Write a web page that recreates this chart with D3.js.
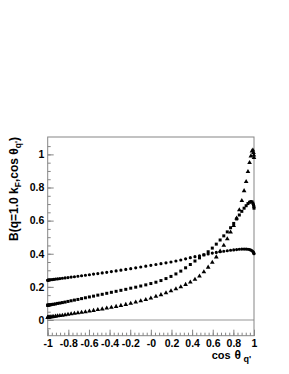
<!DOCTYPE html>
<html>
<head>
<meta charset="utf-8">
<script src="https://cdn.jsdelivr.net/npm/d3@7"></script>
<style>
  html, body { margin: 0; padding: 0; background: #fff; }
  svg { display: block; }
  text { font-family: "Liberation Sans", Arial, Helvetica, sans-serif; font-weight: bold; }
</style>
</head>
<body>
<svg id="chart" width="289" height="374"></svg>
<script>
// ---- data ----
const cosTheta = [-1, -0.9988, -0.9952, -0.9892, -0.9808, -0.9700, -0.9569, -0.9415, -0.9239, -0.9040,
  -0.8819, -0.8577, -0.8315, -0.8032, -0.7730, -0.7410, -0.7071, -0.6716, -0.6344, -0.5957,
  -0.5556, -0.5141, -0.4714, -0.4276, -0.3827, -0.3369, -0.2903, -0.2430, -0.1951, -0.1467,
  -0.0980, -0.0491, 0, 0.0491, 0.0980, 0.1467, 0.1951, 0.2430, 0.2903, 0.3369,
  0.3827, 0.4276, 0.4714, 0.5141, 0.5556, 0.5957, 0.6344, 0.6716, 0.7071, 0.7410,
  0.7730, 0.8032, 0.8315, 0.8577, 0.8819, 0.9040, 0.9239, 0.9415, 0.9569, 0.9700,
  0.9808, 0.9892, 0.9952, 0.9988, 1];

const circleSeries = [0.240, 0.240, 0.241, 0.241, 0.242, 0.243, 0.244, 0.245, 0.247, 0.248,
  0.250, 0.252, 0.254, 0.256, 0.259, 0.261, 0.264, 0.267, 0.270, 0.273,
  0.277, 0.280, 0.284, 0.288, 0.292, 0.296, 0.301, 0.305, 0.310, 0.315,
  0.320, 0.325, 0.330, 0.335, 0.340, 0.345, 0.350, 0.356, 0.362, 0.369,
  0.376, 0.382, 0.388, 0.394, 0.399, 0.404, 0.408, 0.412, 0.415, 0.418,
  0.421, 0.423, 0.425, 0.427, 0.428, 0.428, 0.428, 0.427, 0.425, 0.422,
  0.418, 0.413, 0.408, 0.403, 0.400];

const squareSeries = [0.089, 0.089, 0.089, 0.090, 0.091, 0.092, 0.094, 0.095, 0.097, 0.100,
  0.102, 0.105, 0.108, 0.112, 0.116, 0.120, 0.124, 0.129, 0.134, 0.139,
  0.144, 0.150, 0.155, 0.161, 0.167, 0.173, 0.179, 0.185, 0.192, 0.198,
  0.205, 0.212, 0.220, 0.228, 0.238, 0.250, 0.263, 0.278, 0.295, 0.315,
  0.335, 0.356, 0.375, 0.393, 0.412, 0.434, 0.458, 0.483, 0.508, 0.532,
  0.557, 0.583, 0.610, 0.634, 0.656, 0.675, 0.690, 0.703, 0.711, 0.715,
  0.713, 0.705, 0.695, 0.684, 0.675];

const triangleSeries = [0.015, 0.015, 0.015, 0.016, 0.017, 0.018, 0.019, 0.020, 0.022, 0.024,
  0.026, 0.028, 0.030, 0.033, 0.036, 0.039, 0.042, 0.046, 0.049, 0.053,
  0.057, 0.062, 0.066, 0.071, 0.076, 0.081, 0.087, 0.093, 0.100, 0.107,
  0.115, 0.123, 0.132, 0.142, 0.152, 0.163, 0.175, 0.187, 0.200, 0.214,
  0.228, 0.245, 0.265, 0.290, 0.318, 0.348, 0.380, 0.415, 0.450, 0.490,
  0.530, 0.570, 0.615, 0.665, 0.720, 0.780, 0.835, 0.895, 0.950, 0.990,
  1.020, 1.025, 1.010, 0.995, 0.980];

const xTickValues = [-1, -0.8, -0.6, -0.4, -0.2, 0, 0.2, 0.4, 0.6, 0.8, 1];
const xTickLabels = ["-1", "-0.8", "-0.6", "-0.4", "-0.2", "-0", "0.2", "0.4", "0.6", "0.8", "1"];
const yTickValues = [0, 0.2, 0.4, 0.6, 0.8, 1];
const yTickLabels = ["0", "0.2", "0.4", "0.6", "0.8", "1"];

// ---- layout ----
const L = 47.7, R = 254, T = 137, B = 335.7;
const svg = d3.select("#chart");
const x = d3.scaleLinear().domain([-1, 1]).range([L, R]);
const y = d3.scaleLinear().domain([-0.095, 1.105]).range([B, T]);
const axisColor = "#858585";

// zero line
svg.append("line")
  .attr("x1", L).attr("x2", R)
  .attr("y1", y(0)).attr("y2", y(0))
  .attr("stroke", "#b8b8b8").attr("stroke-width", 1.5);

// minor ticks
const xMinor = d3.range(-1, 1.0001, 0.04).map(v => +v.toFixed(3));
const yMinor = d3.range(-0.05, 1.1, 0.05).map(v => +v.toFixed(3));

const gx = svg.append("g").attr("transform", `translate(0,${B})`);
gx.call(d3.axisBottom(x).tickValues(xMinor).tickSize(-3).tickFormat(""));
gx.call(g => g.select(".domain").remove());
const gx2 = svg.append("g").attr("transform", `translate(0,${B})`);
gx2.call(d3.axisBottom(x).tickValues(xTickValues).tickSize(-6).tickPadding(4)
  .tickFormat((d, i) => xTickLabels[i]));
gx2.select(".domain").remove();

const gy = svg.append("g").attr("transform", `translate(${L},0)`);
gy.call(d3.axisLeft(y).tickValues(yMinor).tickSize(-3).tickFormat(""));
gy.select(".domain").remove();
const gy2 = svg.append("g").attr("transform", `translate(${L},0)`);
gy2.call(d3.axisLeft(y).tickValues(yTickValues).tickSize(-6).tickPadding(3.4)
  .tickFormat((d, i) => yTickLabels[i]));
gy2.select(".domain").remove();

svg.selectAll(".tick line").attr("stroke", axisColor);
svg.selectAll(".tick text").attr("fill", "#000").attr("font-size", 10.5)
  .attr("font-family", "Liberation Sans, Arial, sans-serif").attr("font-weight", "bold");

// frame
svg.append("rect").attr("x", L).attr("y", T).attr("width", R - L).attr("height", B - T)
  .attr("fill", "none").attr("stroke", axisColor).attr("stroke-width", 1);

// markers
const plot = svg.append("g");
const mk = (arr, type, size) => {
  const sym = d3.symbol().type(type).size(size);
  plot.append("g").selectAll("path").data(cosTheta.map((c, i) => [c, arr[i]]))
    .join("path")
    .attr("transform", d => `translate(${x(d[0])},${y(d[1])})`)
    .attr("d", sym)
    .attr("fill", "#000");
};
mk(circleSeries, d3.symbolCircle, 8);
mk(squareSeries, d3.symbolSquare, 9);
mk(triangleSeries, d3.symbolTriangle, 9.5);

// x title
const xt = svg.append("text").attr("y", 359.3).attr("font-size", 11);
xt.append("tspan").attr("x", 211.7).text("cos");
xt.append("tspan").attr("x", 234.5).attr("font-size", 12).text("θ");
xt.append("tspan").attr("x", 243.5).attr("font-size", 9).attr("dy", 3).text("q'");

// y title
const yt = svg.append("text").attr("transform", "translate(17.5,137) rotate(-90)")
  .attr("text-anchor", "end").attr("font-size", 12);
yt.append("tspan").text("B(q=1.0 k");
yt.append("tspan").attr("font-size", 8.5).attr("dy", 3).text("F");
yt.append("tspan").attr("dy", -3).text(",cos θ");
yt.append("tspan").attr("font-size", 8.5).attr("dy", 3).text("q'");
yt.append("tspan").attr("dy", -3).text(")");
</script>
</body>
</html>
